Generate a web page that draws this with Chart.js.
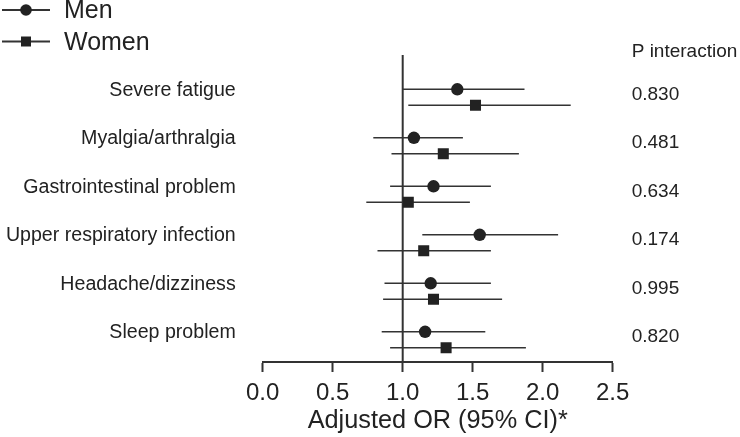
<!DOCTYPE html>
<html>
<head>
<meta charset="utf-8">
<script src="https://cdn.jsdelivr.net/npm/chart.js@4.4.0/dist/chart.umd.min.js"></script>
<style>
  html, body { margin: 0; padding: 0; background: #fff; }
  #wrap { width: 740px; height: 437px; }
</style>
</head>
<body>
<div id="wrap"><canvas id="forest"></canvas></div>
<script>
// data
const categories = [
  "Severe fatigue",
  "Myalgia/arthralgia",
  "Gastrointestinal problem",
  "Upper respiratory infection",
  "Headache/dizziness",
  "Sleep problem",
];
const menOR = [1.39, 1.08, 1.22, 1.55, 1.20, 1.16];
const menLow = [1.00, 0.79, 0.91, 1.14, 0.87, 0.85];
const menHigh = [1.87, 1.43, 1.63, 2.11, 1.63, 1.59];
const womenOR = [1.52, 1.29, 1.04, 1.15, 1.22, 1.31];
const womenLow = [1.04, 0.92, 0.74, 0.82, 0.86, 0.91];
const womenHigh = [2.20, 1.83, 1.48, 1.63, 1.71, 1.88];
const pInteraction = ["0.830", "0.481", "0.634", "0.174", "0.995", "0.820"];
const xTicks = [0, 0.5, 1.0, 1.5, 2.0, 2.5];
const xTitle = "Adjusted OR (95% CI)*";
const pHeader = "P interaction";

const FONT = "'Liberation Sans', Arial, sans-serif";
const INK = "#222";
const WOMEN_OFFSET = 0.33;

// build the point datasets
const menPoints = menOR.map((v, i) => ({ x: v, y: i, lo: menLow[i], hi: menHigh[i] }));
const womenPoints = womenOR.map((v, i) => ({ x: v, y: i + WOMEN_OFFSET, lo: womenLow[i], hi: womenHigh[i] }));

// reference line at OR = 1 and CI whiskers
const whiskers = {
  id: "whiskers",
  beforeDatasetsDraw(chart) {
    const { ctx, chartArea, scales } = chart;
    const x = scales.x, y = scales.y;
    ctx.save();
    ctx.strokeStyle = "#333";
    ctx.lineWidth = 2;
    ctx.beginPath();
    const x1 = x.getPixelForValue(1);
    ctx.moveTo(x1, chartArea.top);
    ctx.lineTo(x1, chartArea.bottom);
    ctx.stroke();

    ctx.lineWidth = 1.6;
    chart.data.datasets.forEach((ds) => {
      ds.data.forEach((p) => {
        const py = y.getPixelForValue(p.y);
        ctx.beginPath();
        ctx.moveTo(x.getPixelForValue(p.lo), py);
        ctx.lineTo(x.getPixelForValue(p.hi), py);
        ctx.stroke();
      });
    });
    ctx.restore();
  },
};

// P interaction column + top-left legend
const sideText = {
  id: "sideText",
  afterDraw(chart) {
    const { ctx, chartArea, scales } = chart;
    const y = scales.y;
    const left = chartArea.right + 19;
    ctx.save();
    ctx.fillStyle = INK;
    ctx.textAlign = "left";
    ctx.textBaseline = "middle";
    ctx.font = "19px " + FONT;
    ctx.fillText(pHeader, left, chartArea.top - 3);
    pInteraction.forEach((p, i) => {
      ctx.fillText(p, left, y.getPixelForValue(i + 0.11));
    });

    // legend
    ctx.font = "25px " + FONT;
    chart.data.datasets.forEach((ds, i) => {
      const ly = 10 + i * 31.5;
      ctx.strokeStyle = "#333";
      ctx.lineWidth = 1.8;
      ctx.beginPath();
      ctx.moveTo(2, ly);
      ctx.lineTo(50, ly);
      ctx.stroke();
      ctx.fillStyle = INK;
      ctx.beginPath();
      if (ds.pointStyle === "rect") {
        ctx.rect(26 - 5, ly - 5, 10, 10);
      } else {
        ctx.arc(26, ly, 5.8, 0, Math.PI * 2);
      }
      ctx.fill();
      ctx.fillText(ds.label, 64, ly + 1.5);
    });
    ctx.restore();
  },
};

new Chart(document.getElementById("forest"), {
  type: "scatter",
  data: {
    datasets: [
      {
        label: "Men",
        data: menPoints,
        pointStyle: "circle",
        pointRadius: 6.2,
        pointHoverRadius: 6.2,
        backgroundColor: INK,
        borderColor: INK,
        borderWidth: 0,
      },
      {
        label: "Women",
        data: womenPoints,
        pointStyle: "rect",
        pointRadius: 7.8,
        pointHoverRadius: 7.8,
        backgroundColor: INK,
        borderColor: INK,
        borderWidth: 0,
      },
    ],
  },
  options: {
    responsive: true,
    maintainAspectRatio: false,
    animation: false,
    events: [],
    layout: { padding: { top: 55, right: 127.3, bottom: 0, left: 0 } },
    plugins: {
      legend: { display: false },
      tooltip: { enabled: false },
    },
    scales: {
      x: {
        type: "linear",
        min: 0,
        max: 2.5,
        afterBuildTicks: (scale) => {
          scale.ticks = xTicks.map((v) => ({ value: v }));
        },
        afterFit: (scale) => {
          scale.height = 75;
        },
        ticks: {
          color: INK,
          font: { family: FONT, size: 24, lineHeight: 1 },
          padding: 9,
          maxRotation: 0,
          callback: (v) => Number(v).toFixed(1),
        },
        grid: {
          drawOnChartArea: false,
          drawTicks: true,
          tickLength: 10,
          tickWidth: 2,
          tickColor: "#333",
        },
        border: { display: true, color: "#333", width: 2 },
        title: {
          display: true,
          text: xTitle,
          color: INK,
          font: { family: FONT, size: 25.3, lineHeight: 1 },
          padding: { top: 0, bottom: 3 },
        },
      },
      y: {
        type: "linear",
        reverse: true,
        min: -0.707,
        max: 5.623,
        afterBuildTicks: (scale) => {
          scale.ticks = categories.map((c, i) => ({ value: i + 0.02 }));
        },
        afterFit: (scale) => {
          scale.width = 262.7;
        },
        ticks: {
          color: INK,
          font: { family: FONT, size: 19.6 },
          padding: 27,
          callback: (v, idx) => categories[idx],
        },
        grid: { display: false, drawTicks: false },
        border: { display: false },
      },
    },
  },
  plugins: [whiskers, sideText],
});
</script>
</body>
</html>
